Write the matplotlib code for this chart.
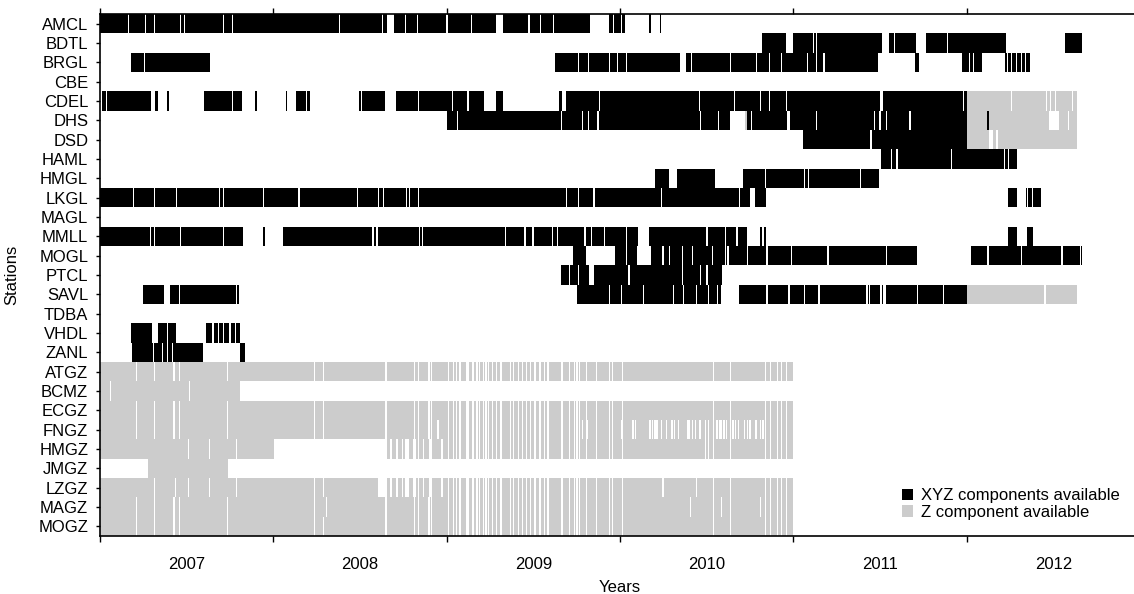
import matplotlib
matplotlib.use("Agg")
import matplotlib.pyplot as plt
from matplotlib.patches import Patch

plt.rcParams["font.family"] = ["Liberation Sans", "DejaVu Sans"]
plt.rcParams["font.size"] = 12

stations = ["AMCL", "BDTL", "BRGL", "CBE", "CDEL", "DHS", "DSD", "HAML", "HMGL",
            "LKGL", "MAGL", "MMLL", "MOGL", "PTCL", "SAVL", "TDBA", "VHDL", "ZANL",
            "ATGZ", "BCMZ", "ECGZ", "FNGZ", "HMGZ", "JMGZ", "LZGZ", "MAGZ", "MOGZ"]
years = [2007, 2008, 2009, 2010, 2011, 2012]

# ---- XYZ (three component) records: (start, end) in decimal years, plus missing days
amcl_xyz = [(2007.000, 2008.656), (2008.696, 2009.285), (2009.325, 2009.827),
            (2009.937, 2010.029), (2010.167, 2010.179), (2010.231, 2010.237)]
amcl_gaps = [2007.162, 2007.260, 2007.312, 2007.462, 2007.485, 2007.715, 2007.762,
             2008.379, 2008.630, 2008.760, 2008.829, 2009.002, 2009.146, 2009.475,
             2009.544, 2009.619, 2009.965, 2010.006]

bdtl_xyz = [(2010.819, 2010.958), (2010.998, 2011.511), (2011.552, 2011.708),
            (2011.765, 2012.227), (2012.567, 2012.665)]
bdtl_gaps = [2011.119, 2011.136, 2011.586, 2011.892]

brgl_xyz = [(2007.179, 2007.635), (2009.625, 2010.346), (2010.381, 2011.488),
            (2011.702, 2011.725), (2011.973, 2012.088), (2012.221, 2012.365)]
brgl_gaps = [2007.254, 2009.763, 2009.821, 2009.937, 2009.988, 2010.040, 2010.415,
             2010.635, 2010.790, 2010.860, 2010.929, 2011.079, 2011.136, 2011.177,
             2012.019, 2012.042, 2012.233, 2012.261, 2012.290, 2012.319, 2012.342]

cdel_xyz = [(2007.012, 2007.294), (2007.317, 2007.335), (2007.387, 2007.398),
            (2007.600, 2007.819), (2007.894, 2007.906), (2008.073, 2008.079),
            (2008.131, 2008.211), (2008.494, 2008.644), (2008.708, 2009.215),
            (2009.285, 2009.325), (2009.648, 2009.665), (2009.688, 2011.500),
            (2011.517, 2012.000)]
cdel_gaps = [2007.040, 2007.767, 2008.194, 2008.506, 2008.835, 2009.031, 2009.123,
             2009.879, 2010.461, 2010.663, 2010.808, 2010.865, 2010.963, 2011.979]

dhs_xyz = [(2009.002, 2010.635), (2010.733, 2010.963), (2010.981, 2012.000),
           (2012.120, 2012.126)]
dhs_gaps = [2009.060, 2009.665, 2009.781, 2009.821, 2009.873, 2010.467, 2010.571,
            2010.761, 2011.136, 2011.471, 2011.500, 2011.535, 2011.673]

dsd_xyz = [(2011.056, 2012.000)]
dsd_gaps = [2011.448]

haml_xyz = [(2011.506, 2012.290)]
haml_gaps = [2011.569, 2011.598, 2011.915, 2012.221, 2012.244]

hmgl_xyz = [(2010.202, 2010.283), (2010.329, 2010.548), (2010.710, 2011.496)]
hmgl_gaps = [2010.842, 2011.067, 2011.085, 2011.390]

lkgl_xyz = [(2007.000, 2010.750), (2010.779, 2010.842), (2012.238, 2012.290),
            (2012.342, 2012.429)]
lkgl_gaps = [2007.196, 2007.312, 2007.444, 2007.692, 2007.710, 2007.946, 2008.148,
             2008.488, 2008.604, 2008.633, 2008.771, 2008.788, 2008.835, 2009.694,
             2009.763, 2009.850, 2010.242, 2010.692, 2012.351, 2012.382]

mmll_xyz = [(2007.000, 2007.825), (2007.943, 2007.952), (2008.056, 2010.104),
            (2010.167, 2010.733), (2010.808, 2010.842), (2012.238, 2012.290),
            (2012.348, 2012.382)]
mmll_gaps = [2007.294, 2007.312, 2007.462, 2007.715, 2008.575, 2008.598, 2008.846,
             2008.863, 2009.337, 2009.452, 2009.498, 2009.613, 2009.642, 2009.798,
             2009.838, 2009.908, 2010.040, 2010.502, 2010.606, 2010.675, 2010.825]

mogl_xyz = [(2009.729, 2009.804), (2009.971, 2010.098), (2010.179, 2011.713),
            (2012.025, 2012.665)]
mogl_gaps = [2010.040, 2010.248, 2010.288, 2010.363, 2010.421, 2010.536, 2010.611,
             2010.623, 2010.733, 2010.848, 2010.992, 2011.200, 2011.540, 2012.123,
             2012.319, 2012.550, 2012.654]

ptcl_xyz = [(2009.660, 2009.821), (2009.850, 2010.588)]
ptcl_gaps = [2009.711, 2009.758, 2010.052, 2010.363, 2010.467, 2010.502]

savl_xyz = [(2007.248, 2007.369), (2007.404, 2007.802), (2009.752, 2010.560),
            (2010.566, 2010.583), (2010.686, 2011.500), (2011.510, 2011.516),
            (2011.535, 2012.000)]
savl_gaps = [2007.456, 2007.790, 2009.942, 2010.011, 2010.133, 2010.306, 2010.369,
             2010.444, 2010.513, 2010.848, 2010.975, 2011.067, 2011.148, 2011.425,
             2011.442, 2011.719, 2011.869]

vhdl_xyz = [(2007.179, 2007.300), (2007.335, 2007.438), (2007.612, 2007.808)]
vhdl_gaps = [2007.387, 2007.652, 2007.681, 2007.710, 2007.750, 2007.779]

zanl_xyz = [(2007.185, 2007.594), (2007.808, 2007.837)]
zanl_gaps = [2007.306, 2007.363, 2007.387, 2007.421]

# ---- Z only records
cdel_z = [(2012.000, 2012.636)]
cdel_zgaps = [2012.261, 2012.463, 2012.486, 2012.515, 2012.608]
dhs_z = [(2010.721, 2010.733), (2012.000, 2012.475), (2012.533, 2012.636)]
dhs_zgaps = [2012.590]
dsd_z = [(2012.000, 2012.129), (2012.152, 2012.636)]
dsd_zgaps = [2012.175]
savl_z = [(2012.000, 2012.636)]
savl_zgaps = [2012.452]

# days missing at most of the vertical-only stations after mid 2008
shared_zgaps = [2008.812, 2008.835, 2008.898, 2008.910, 2009.008, 2009.037, 2009.054,
                2009.077, 2009.112, 2009.123, 2009.152, 2009.175, 2009.192, 2009.210,
                2009.227, 2009.244, 2009.262, 2009.290, 2009.308, 2009.319, 2009.371,
                2009.383, 2009.412, 2009.435, 2009.458, 2009.481, 2009.504, 2009.515,
                2009.533, 2009.544, 2009.562, 2009.579, 2009.590, 2009.660, 2009.671,
                2009.706, 2009.740, 2009.752, 2009.769, 2009.804, 2009.867, 2009.942,
                2009.954, 2010.012, 2010.542, 2010.635, 2010.842, 2010.871, 2010.906,
                2010.929, 2010.963]
early_zgaps = [2007.213, 2007.312, 2007.427, 2007.456, 2007.733, 2008.235, 2008.292,
               2008.650]

atgz_z = [(2007.000, 2011.000)]
bcmz_z = [(2007.000, 2007.808)]
bcmz_zgaps = [2007.058, 2007.519]
ecgz_z = [(2007.000, 2011.000)]
fngz_z = [(2007.000, 2011.000)]
fngz_zgaps = [2008.950, 2009.060, 2009.781, 2009.815, 2010.006, 2010.017, 2010.075,
              2010.087, 2010.173, 2010.185, 2010.202, 2010.208, 2010.219, 2010.242,
              2010.271, 2010.300, 2010.312, 2010.335, 2010.387, 2010.398, 2010.421,
              2010.438, 2010.456, 2010.467, 2010.496, 2010.508, 2010.554, 2010.565,
              2010.577, 2010.588, 2010.600, 2010.617, 2010.652, 2010.669, 2010.686,
              2010.721, 2010.738, 2010.750, 2010.779, 2010.790, 2010.808, 2010.825]
restart_2008 = [(2008.657, 2008.673), (2008.683, 2008.708), (2008.721, 2008.740),
                (2008.746, 2008.760), (2008.785, 2008.808), (2008.823, 2008.865),
                (2008.871, 2008.900), (2008.913, 2008.943), (2008.946, 2008.967),
                (2008.977, 2011.000)]
hmgz_z = [(2007.000, 2008.004)] + restart_2008
hmgz_zgaps = [2007.508, 2007.629, 2007.785, 2010.496, 2010.508]
jmgz_z = [(2007.277, 2007.739)]
lzgz_z = [(2007.000, 2008.606)] + restart_2008
lzgz_zgaps = [2007.312, 2007.438, 2007.508, 2007.629, 2007.785, 2008.235, 2008.292,
              2010.248, 2010.444]
magz_z = [(2007.000, 2011.000)]
magz_zgaps = [2007.213, 2007.312, 2007.427, 2007.456, 2007.733, 2008.235, 2008.304,
              2008.650, 2010.404, 2010.583, 2010.808]
mogz_z = [(2007.000, 2011.000)]

GAP_W = 0.006  # width of one missing day on the chart


def pieces(spans, gaps):
    out = []
    for a, b in spans:
        start = a
        for g in sorted(gaps):
            if start < g - GAP_W / 2 and g + GAP_W / 2 < b:
                out.append((start, g - GAP_W / 2 - start))
                start = g + GAP_W / 2
        out.append((start, b - start))
    return out


xyz_data = {
    "AMCL": (amcl_xyz, amcl_gaps), "BDTL": (bdtl_xyz, bdtl_gaps),
    "BRGL": (brgl_xyz, brgl_gaps), "CDEL": (cdel_xyz, cdel_gaps),
    "DHS": (dhs_xyz, dhs_gaps), "DSD": (dsd_xyz, dsd_gaps),
    "HAML": (haml_xyz, haml_gaps), "HMGL": (hmgl_xyz, hmgl_gaps),
    "LKGL": (lkgl_xyz, lkgl_gaps), "MMLL": (mmll_xyz, mmll_gaps),
    "MOGL": (mogl_xyz, mogl_gaps), "PTCL": (ptcl_xyz, ptcl_gaps),
    "SAVL": (savl_xyz, savl_gaps), "VHDL": (vhdl_xyz, vhdl_gaps),
    "ZANL": (zanl_xyz, zanl_gaps),
}
z_data = {
    "CDEL": (cdel_z, cdel_zgaps), "DHS": (dhs_z, dhs_zgaps),
    "DSD": (dsd_z, dsd_zgaps), "SAVL": (savl_z, savl_zgaps),
    "ATGZ": (atgz_z, early_zgaps + shared_zgaps),
    "BCMZ": (bcmz_z, bcmz_zgaps),
    "ECGZ": (ecgz_z, early_zgaps + shared_zgaps),
    "FNGZ": (fngz_z, early_zgaps + shared_zgaps + fngz_zgaps),
    "HMGZ": (hmgz_z, hmgz_zgaps + shared_zgaps),
    "JMGZ": (jmgz_z, []),
    "LZGZ": (lzgz_z, lzgz_zgaps + shared_zgaps),
    "MAGZ": (magz_z, magz_zgaps + shared_zgaps),
    "MOGZ": (mogz_z, early_zgaps + shared_zgaps),
}

fig = plt.figure(figsize=(11.34, 5.94), dpi=100)
ax = fig.add_axes([100 / 1134, 58 / 594, 1040 / 1134, 522 / 594])

for i, name in enumerate(stations):
    if name in z_data:
        ax.broken_barh(pieces(*z_data[name]), (i - 0.5, 1.0), facecolors="#cccccc",
                       linewidth=0, antialiased=False)
    if name in xyz_data:
        ax.broken_barh(pieces(*xyz_data[name]), (i - 0.5, 1.0), facecolors="black",
                       linewidth=0, antialiased=False)

ax.set_xlim(2007, 2013)
ax.set_ylim(len(stations) - 0.5, -0.5)
ax.set_yticks(range(len(stations)), stations)
ax.set_xticks(range(2007, 2014), [""] * 7)
ax.set_xticks([y + 0.5 for y in years], [str(y) for y in years], minor=True)
ax.tick_params(axis="x", which="major", length=4, width=1, top=True, direction="out")
ax.tick_params(axis="x", which="minor", length=0, pad=15)
ax.tick_params(axis="y", length=3, width=1, pad=5.5)
ax.spines["right"].set_visible(False)
for s in ["left", "bottom", "top"]:
    ax.spines[s].set_linewidth(1.2)

fig.text(12 / 1134, 1 - 275 / 594, "Stations", rotation=90, ha="center", va="center")
fig.text(620 / 1134, 1.5 / 594, "Years", ha="center", va="baseline")

handles = [Patch(facecolor="black", edgecolor="none", label="XYZ components available"),
           Patch(facecolor="#cccccc", edgecolor="none", label="Z component available")]
fig.legend(handles=handles, loc="center left", bbox_to_anchor=(902 / 1134, 1 - 504 / 594),
           frameon=False, handlelength=0.65, handleheight=0.65, handletextpad=0.5,
           labelspacing=0.1, borderpad=0, borderaxespad=0)

fig.savefig("out.png", dpi=100)
